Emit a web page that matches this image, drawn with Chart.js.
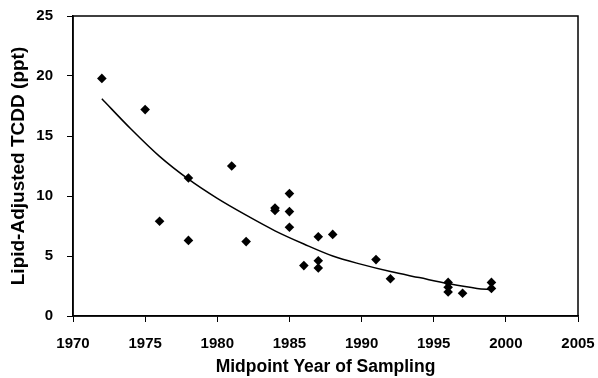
<!DOCTYPE html>
<html>
<head>
<meta charset="utf-8">
<script src="https://cdn.jsdelivr.net/npm/chart.js@4"></script>
<style>
  html, body { margin: 0; padding: 0; background: #fff; }
  #chart { display: block; }
</style>
</head>
<body>
<canvas id="chart" width="598" height="378"></canvas>
<script>
// measured samples
const sampleYears = [1972, 1975, 1976, 1978, 1978, 1981, 1982, 1984, 1984, 1985, 1985, 1985,
  1986, 1987, 1987, 1987, 1988, 1991, 1992, 1996, 1996, 1996, 1997, 1999, 1999];
const tcddValues = [19.8, 17.2, 7.9, 11.5, 6.3, 12.5, 6.2, 8.8, 9.0, 10.2, 8.7, 7.4,
  4.2, 6.6, 4.6, 4.0, 6.8, 4.7, 3.1, 2.8, 2.4, 2.0, 1.9, 2.8, 2.3];

// fitted trend
const fitYears = [1972, 1974, 1976, 1978, 1980, 1982, 1984, 1986, 1988, 1990, 1992, 1994, 1996, 1998, 1999];
const fitValues = [18.1, 15.6, 13.3, 11.4, 9.8, 8.4, 7.1, 6.0, 5.0, 4.3, 3.7, 3.2, 2.7, 2.3, 2.2];

const xTicks = [1970, 1975, 1980, 1985, 1990, 1995, 2000, 2005];
const yTicks = [0, 5, 10, 15, 20, 25];

const fontFamily = '"Liberation Sans", Arial, sans-serif';

// box around the plot area (top and right edges)
const frame = {
  id: 'frame',
  afterDraw(chart) {
    const { ctx, chartArea: a } = chart;
    ctx.save();
    ctx.strokeStyle = '#000';
    ctx.lineWidth = 1.5;
    ctx.strokeRect(a.left, a.top, a.right - a.left, a.bottom - a.top);
    ctx.restore();
  }
};

new Chart(document.getElementById('chart'), {
  type: 'scatter',
  data: {
    datasets: [
      {
        label: 'Samples',
        data: sampleYears.map((yr, i) => ({ x: yr, y: tcddValues[i] })),
        pointStyle: 'rectRot',
        pointRadius: 4.8,
        backgroundColor: '#000',
        borderColor: '#000',
        borderWidth: 0
      },
      {
        label: 'Trend',
        data: fitYears.map((yr, i) => ({ x: yr, y: fitValues[i] })),
        showLine: true,
        pointRadius: 0,
        borderColor: '#000',
        borderWidth: 1.5,
        cubicInterpolationMode: 'monotone'
      }
    ]
  },
  options: {
    responsive: false,
    animation: false,
    devicePixelRatio: 1,
    layout: { padding: { top: 16, right: 20, left: 0, bottom: 0 } },
    plugins: {
      legend: { display: false },
      tooltip: { enabled: false }
    },
    scales: {
      x: {
        type: 'linear',
        min: 1970,
        max: 2005,
        afterBuildTicks: (s) => { s.ticks = xTicks.map(v => ({ value: v })); },
        afterFit: (s) => {
          s.height = 62;
          s.paddingLeft = 0;
          s.paddingRight = 0;
        },
        grid: { drawOnChartArea: false, drawTicks: true, tickLength: 6, tickColor: '#000', tickWidth: 1 },
        border: { color: '#000', width: 1.5 },
        ticks: {
          color: '#000',
          padding: 13,
          maxRotation: 0,
          font: { family: fontFamily, size: 15, weight: 'bold' },
          callback: (v) => String(v)
        },
        title: {
          display: true,
          text: 'Midpoint Year of Sampling',
          color: '#000',
          padding: { top: 0, bottom: 0 },
          font: { family: fontFamily, size: 17.5, weight: 'bold' }
        }
      },
      y: {
        min: 0,
        max: 25,
        afterBuildTicks: (s) => { s.ticks = yTicks.map(v => ({ value: v })); },
        afterFit: (s) => {
          s.width = 73;
          s.paddingTop = 0;
          s.paddingBottom = 0;
        },
        grid: { drawOnChartArea: false, drawTicks: true, tickLength: 6, tickColor: '#000', tickWidth: 1 },
        border: { color: '#000', width: 1.5 },
        ticks: {
          color: '#000',
          padding: 14,
          font: { family: fontFamily, size: 15, weight: 'bold' }
        },
        title: {
          display: true,
          text: 'Lipid-Adjusted TCDD (ppt)',
          color: '#000',
          padding: { top: 7, bottom: 0 },
          font: { family: fontFamily, size: 19, weight: 'bold' }
        }
      }
    }
  },
  plugins: [frame]
});
</script>
</body>
</html>
